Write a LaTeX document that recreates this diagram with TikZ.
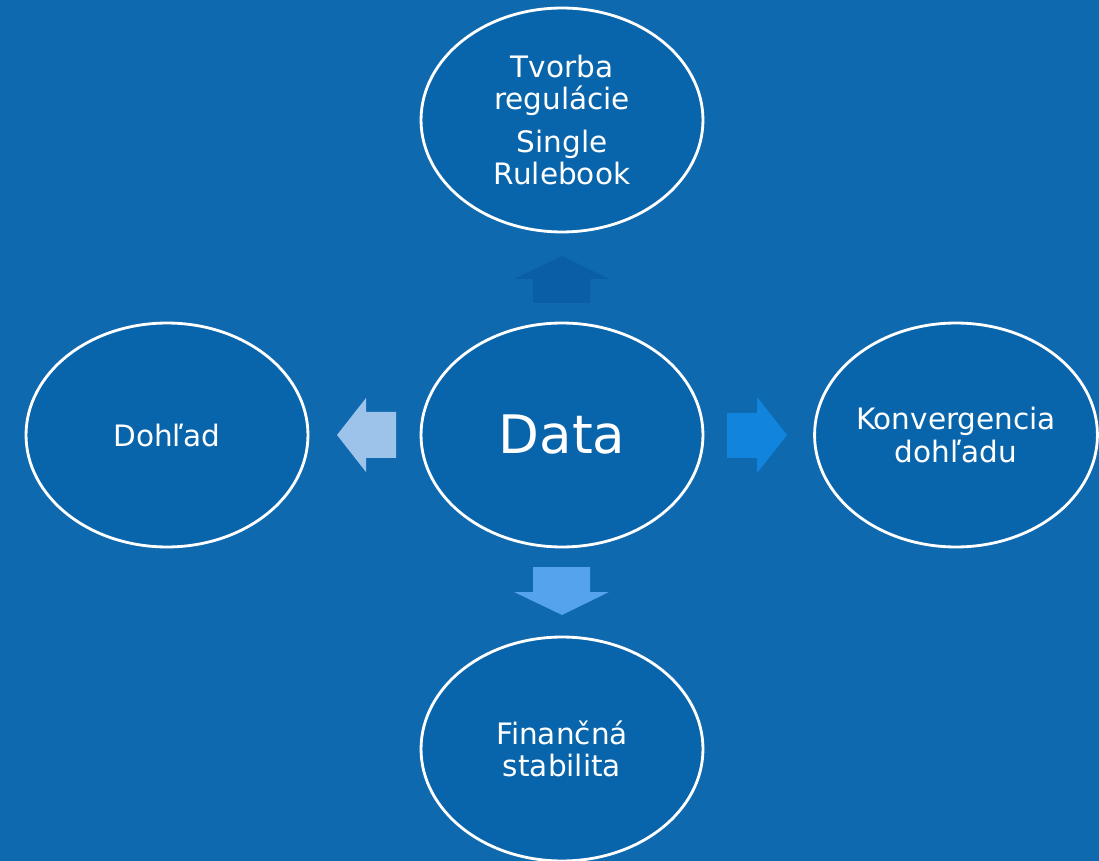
\documentclass[tikz,border=0pt]{standalone}
\usepackage{fontspec}
\setmainfont{DejaVu Sans}
\usetikzlibrary{shapes.geometric, positioning}
\definecolor{bgblue}{HTML}{0F69AF}
\definecolor{ellblue}{HTML}{0865AB}
\definecolor{upblue}{HTML}{0A5EA4}
\definecolor{leftblue}{HTML}{9DC3EA}
\definecolor{rightblue}{HTML}{1184DD}
\definecolor{downblue}{HTML}{55A3EA}

\begin{document}
\begin{tikzpicture}[x=0.02cm, y=-0.02cm,
    topic/.style={ellipse, draw=white, line width=1.6pt, fill=ellblue,
      minimum width=5.64cm, minimum height=4.48cm, inner sep=0pt, text=white,
      align=center, font=\fontsize{16.8}{18.3}\selectfont}]
     \fill[bgblue] (0,0) rectangle (1099,861);
     \useasboundingbox (0,0) rectangle (1099,861);
     % ellipses
     \node[topic] (data) at (562,435) {\fontsize{30.2}{35}\selectfont Data};
     \node[topic] (rule) at (562,120) {Tvorba\\regulácie\\[6pt]Single\\Rulebook};
     \node[topic] (dohlad) at (167,435) {Dohľad};
     \node[topic] (konv) at (956,435) {Konvergencia\\dohľadu};
     \node[topic] (fin) at (562,749) {Finančná\\stabilita};
     % block arrows
     \fill[upblue, shift={(562,256)}] (0,0) -- (47,23) -- (28,23) -- (28,47)
       -- (-29,47) -- (-29,23) -- (-48,23) -- cycle;
     \fill[leftblue, shift={(337,435)}] (0,0) -- (29,-37) -- (29,-23) -- (59,-23)
       -- (59,23) -- (29,23) -- (29,37) -- cycle;
     \fill[rightblue, shift={(787,435)}] (0,0) -- (-30,-38) -- (-30,-22) -- (-60,-22)
       -- (-60,23) -- (-30,23) -- (-30,38) -- cycle;
     \fill[downblue, shift={(562,615)}] (0,0) -- (47,-23) -- (28,-23) -- (28,-48)
       -- (-29,-48) -- (-29,-23) -- (-48,-23) -- cycle;
\end{tikzpicture}
\end{document}
